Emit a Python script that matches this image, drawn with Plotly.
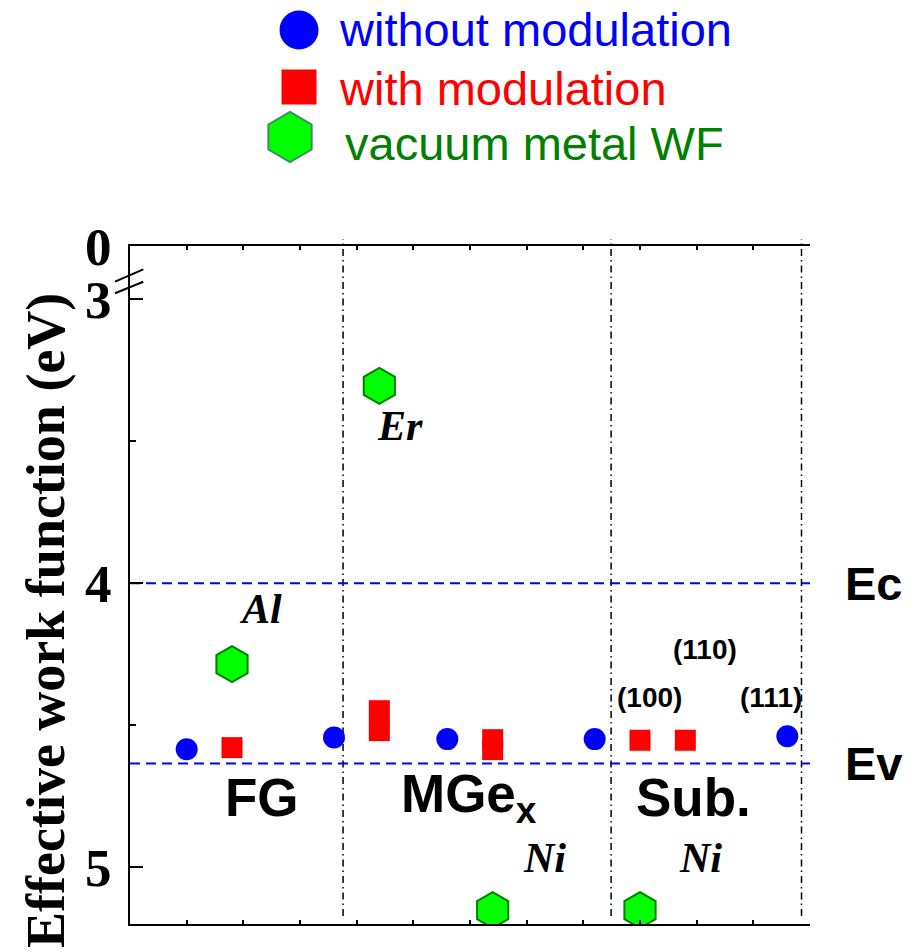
import plotly.graph_objects as go

# ---- data (x: position along the category axis, y: effective work function in eV) ----
without_x = [1.0, 3.6, 5.6, 8.2, 11.6]
without_y = [4.585, 4.543, 4.549, 4.549, 4.539]

with_x = [1.8, 4.4, 4.4, 6.4, 6.4, 9.0, 9.8]
with_y = [4.579, 4.449, 4.519, 4.551, 4.586, 4.553, 4.553]

vac_x = [1.8, 4.4, 6.4, 9.0]
vac_y = [4.285, 3.305, 5.151, 5.151]
vac_metal = ["Al", "Er", "Ni", "Ni"]

ec_level = 4.0
ev_level = 4.635
separators = [3.76, 8.49, 11.85]

group_labels = ["FG", "MGe<sub>x</sub>", "Sub."]
group_x = [2.33, 5.98, 9.95]
group_y = 4.754

orient_labels = ["(110)", "(100)", "(111)"]
orient_x = [10.15, 9.16, 11.32]
orient_y = [4.232, 4.401, 4.401]

metal_label_x = [2.31, 4.76, 7.32, 10.06]
metal_label_y = [4.092, 3.445, 4.968, 4.968]

y_tick_vals = [2.8127, 3, 4, 5]
y_tick_text = ["0", "3", "4", "5"]

legend_names = ["without modulation", "with modulation", "vacuum metal WF"]
legend_colors = ["#0000ff", "#ff0000", "#008000"]

W, H = 916, 952
# plot area in page pixels
PL, PR, PT, PB = 130, 810, 246, 924

BLUE = "#0000ff"
RED = "#ff0000"
GREEN = "#00ff00"
DKGREEN = "#008000"
SANS = "Liberation Sans, Arial, sans-serif"
SERIF = "Liberation Serif, Times New Roman, serif"

fig = go.Figure()

fig.add_trace(go.Scatter(x=without_x, y=without_y, mode="markers",
                         marker=dict(symbol="circle", size=22, color=BLUE),
                         showlegend=False))
fig.add_trace(go.Scatter(x=with_x, y=with_y, mode="markers",
                         marker=dict(symbol="square", size=21, color=RED),
                         showlegend=False))
fig.add_trace(go.Scatter(x=vac_x, y=vac_y, mode="markers",
                         marker=dict(symbol="hexagon", size=36, color=GREEN,
                                     line=dict(color=DKGREEN, width=2)),
                         showlegend=False))

# hand-made key in the top margin, on an overlay axis measured in page pixels
key_sym = ["circle", "square", "hexagon"]
key_fill = [BLUE, RED, GREEN]
key_size = [39, 35, 50]
key_px = [299, 299, 290]
key_py = [30, 87, 137]
for s, c, sz, kx, ky in zip(key_sym, key_fill, key_size, key_px, key_py):
    fig.add_trace(go.Scatter(
        x=[kx], y=[ky], mode="markers", xaxis="x2", yaxis="y2",
        marker=dict(symbol=s, size=sz, color=c,
                    line=dict(color="#3c8c5c" if s == "hexagon" else c,
                              width=2 if s == "hexagon" else 0)),
        showlegend=False, cliponaxis=False))

annotations = []
key_text_x = [337, 337, 343]
key_text_y = [29, 88, 143]
for name, col, tx, ty in zip(legend_names, legend_colors, key_text_x, key_text_y):
    annotations.append(dict(x=tx, y=ty, xref="x2", yref="y2", text=name,
                            showarrow=False, xanchor="left", yanchor="middle",
                            font=dict(family=SANS, size=47, color=col)))

for lab, gx in zip(group_labels, group_x):
    annotations.append(dict(x=gx, y=group_y, xref="x", yref="y", text=lab,
                            showarrow=False, xanchor="center", yanchor="middle",
                            font=dict(family=SANS, size=53, color="black",
                                      weight="bold")))

for lab, ox, oy in zip(orient_labels, orient_x, orient_y):
    annotations.append(dict(x=ox, y=oy, xref="x", yref="y", text=lab,
                            showarrow=False, xanchor="center", yanchor="middle",
                            font=dict(family=SANS, size=28, color="black",
                                      weight="bold")))

for lab, mx, my in zip(vac_metal, metal_label_x, metal_label_y):
    annotations.append(dict(x=mx, y=my, xref="x", yref="y", text=lab,
                            showarrow=False, xanchor="center", yanchor="middle",
                            font=dict(family=SERIF, size=42, color="black",
                                      weight="bold", style="italic")))

for lab, lv in zip(["Ec", "Ev"], [ec_level, ev_level]):
    annotations.append(dict(x=874 / W, y=lv, xref="paper", yref="y", text=lab,
                            showarrow=False, xanchor="center", yanchor="middle",
                            font=dict(family=SANS, size=47, color="black",
                                      weight="bold")))

# axis title, placed by hand
annotations.append(dict(x=46 / W, y=(H - 621) / H, xref="paper", yref="paper",
                        text="Effective work function (eV)", textangle=-90,
                        showarrow=False, xanchor="center", yanchor="middle",
                        font=dict(family=SERIF, size=54, color="black",
                                  weight="bold")))

shapes = []
# conduction / valence band edges
for lv in [ec_level, ev_level]:
    shapes.append(dict(type="line", xref="x", yref="y", x0=0, x1=12, y0=lv, y1=lv,
                       line=dict(color=BLUE, width=2, dash="10px,6px"),
                       layer="below"))
# group separators
for sx in separators:
    shapes.append(dict(type="line", xref="x", yref="paper", x0=sx, x1=sx,
                       y0=(H - 916) / H, y1=(H - 239) / H,
                       line=dict(color="black", width=1.5, dash="7px,4px,1.5px,4px"),
                       layer="below"))
# axis break marks
for (ya, yb) in [(281.7, 269.3), (293.3, 281.7)]:
    shapes.append(dict(type="line", xref="paper", yref="paper",
                       x0=115 / W, x1=143.3 / W, y0=(H - ya) / H, y1=(H - yb) / H,
                       line=dict(color="black", width=2)))

fig.update_layout(
    template="none",
    width=W, height=H,
    margin=dict(l=0, r=0, t=0, b=0, pad=0, autoexpand=False),
    paper_bgcolor="white", plot_bgcolor="rgba(0,0,0,0)",
    showlegend=False,
    xaxis=dict(domain=[PL / W, PR / W], range=[0, 12], automargin=False,
               tickvals=list(range(13)), showticklabels=False,
               ticks="inside", ticklen=4, tickwidth=1.5, tickcolor="black",
               showline=True, linecolor="black", linewidth=2, mirror="ticks",
               showgrid=False, zeroline=False),
    yaxis=dict(domain=[(H - PB) / H, (H - PT) / H], range=[5.2, 2.8127],
               automargin=False,
               tickvals=y_tick_vals, ticktext=y_tick_text,
               ticks="inside", ticklen=13, tickwidth=2, tickcolor="black",
               tickfont=dict(family=SERIF, size=53, color="black", weight="bold"),
               ticklabelstandoff=6,
               minor=dict(tickvals=[3.5, 4.5], ticks="inside", ticklen=6,
                          tickwidth=1.5, tickcolor="black"),
               showline=True, linecolor="black", linewidth=2, mirror=False,
               showgrid=False, zeroline=False),
    xaxis2=dict(domain=[0, 1], range=[0, W], visible=False, anchor="y2",
                automargin=False),
    yaxis2=dict(domain=[0, 1], range=[H, 0], visible=False, anchor="x2",
                automargin=False),
    annotations=annotations,
    shapes=shapes,
)

fig.write_html("out.html")
